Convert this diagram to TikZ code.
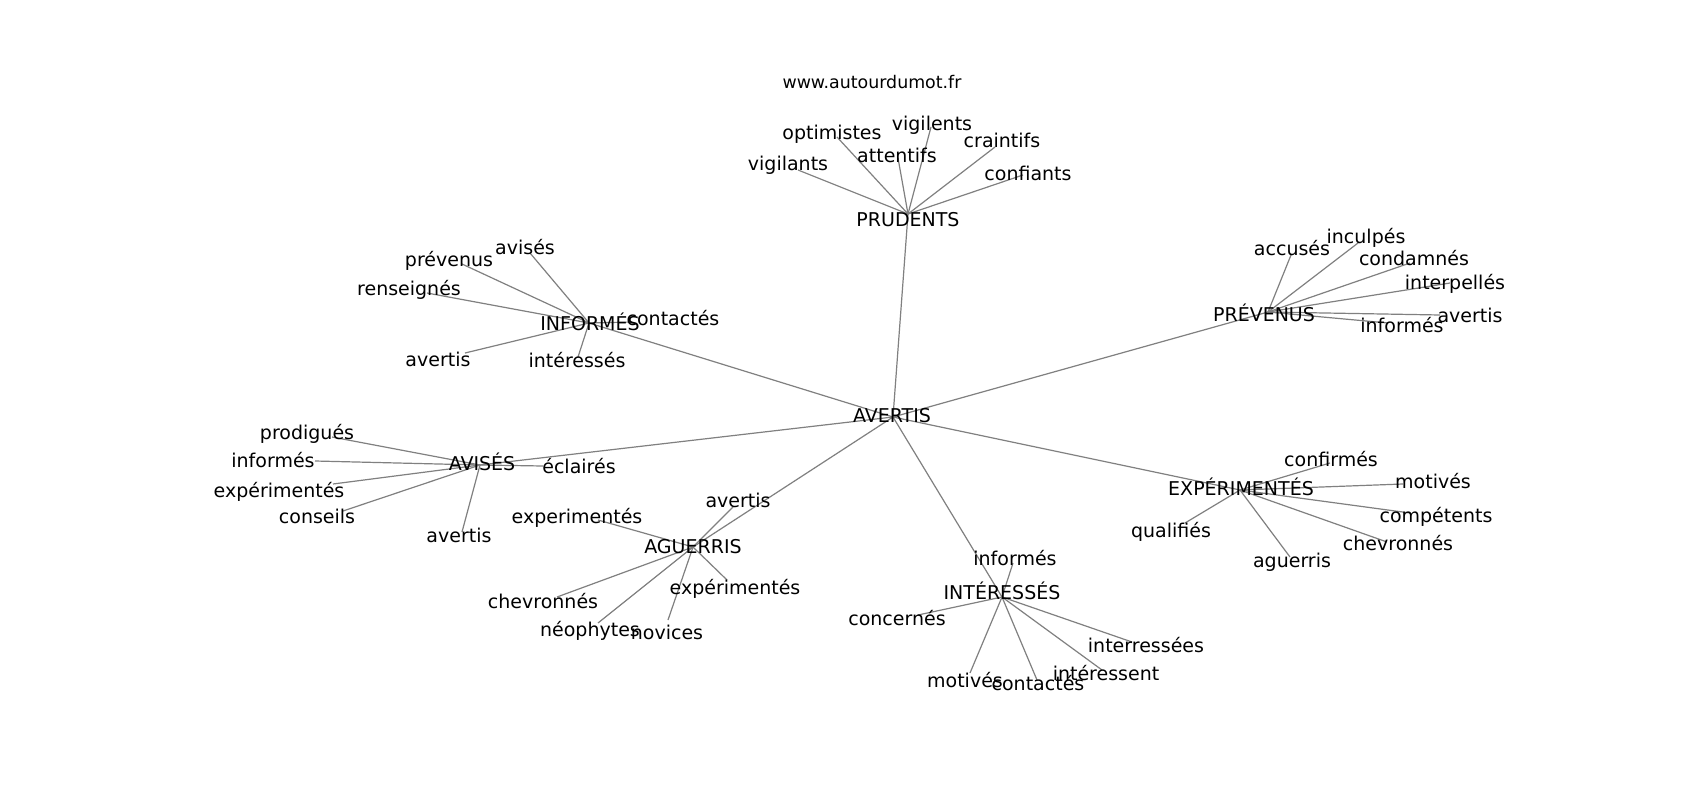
\documentclass[tikz,border=0pt]{standalone}
\usepackage{fontspec}
\setmainfont{DejaVu Sans}

\begin{document}
\begin{tikzpicture}[x=1pt, y=-1pt,
    word/.style={inner sep=0pt, yshift=-3pt, text height=0.76em, text depth=0.24em, font=\fontsize{19}{19}\selectfont},
    edge/.style={draw=black!50, line width=1.2pt}]
    \useasboundingbox[fill=white] (0,0) rectangle (1700,800);

    % graph vertices
    \coordinate (c) at (893,417);
    \coordinate (p) at (908,214);
    \coordinate (i) at (589,323);
    \coordinate (v) at (1268,312);
    \coordinate (a) at (480,465);
    \coordinate (g) at (693,547);
    \coordinate (n) at (1002,597);
    \coordinate (e) at (1240,490);

    \coordinate (p1) at (798,170);
    \coordinate (p2) at (837,137);
    \coordinate (p3) at (898,158);
    \coordinate (p4) at (931,127);
    \coordinate (p5) at (995,147);
    \coordinate (p6) at (1023,175);

    \coordinate (i1) at (530,253);
    \coordinate (i2) at (462,264);
    \coordinate (i3) at (427,293);
    \coordinate (i4) at (465,353);
    \coordinate (i5) at (578,357);
    \coordinate (i6) at (632,322);

    \coordinate (v1) at (1291,255);
    \coordinate (v2) at (1358,243);
    \coordinate (v3) at (1410,263);
    \coordinate (v4) at (1450,283);
    \coordinate (v5) at (1440,315);
    \coordinate (v6) at (1388,323);

    \coordinate (a1) at (332,437);
    \coordinate (a2) at (315,461);
    \coordinate (a3) at (333,484);
    \coordinate (a4) at (343,511);
    \coordinate (a5) at (462,532);
    \coordinate (a6) at (543,466);

    \coordinate (g1) at (733,507);
    \coordinate (g2) at (598,520);
    \coordinate (g3) at (557,597);
    \coordinate (g4) at (598,623);
    \coordinate (g5) at (668,620);
    \coordinate (g6) at (727,580);

    \coordinate (n1) at (1013,563);
    \coordinate (n2) at (918,615);
    \coordinate (n3) at (970,673);
    \coordinate (n4) at (1037,680);
    \coordinate (n5) at (1102,670);
    \coordinate (n6) at (1132,642);

    \coordinate (e1) at (1330,463);
    \coordinate (e2) at (1403,484);
    \coordinate (e3) at (1410,513);
    \coordinate (e4) at (1387,542);
    \coordinate (e5) at (1290,557);
    \coordinate (e6) at (1185,523);

    % edges
    \foreach \h in {p,i,v,a,g,n,e} {
        \draw[edge] (c) -- (\h);
        \foreach \k in {1,...,6}
            \draw[edge] (\h) -- (\h\k);
    }

    % labels
    \node[font=\fontsize{17.4}{17.4}\selectfont, inner sep=0pt] (site) at (872,82) {www.autourdumot.fr};

    \node[word] (ct) at (892,417) {AVERTIS};
    \node[word] (pt) at (908,221) {PRUDENTS};
    \node[word] (it) at (590,325) {INFORMÉS};
    \node[word] (vt) at (1264,316) {PRÉVENUS};
    \node[word] (at) at (482,465) {AVISÉS};
    \node[word] (gt) at (693,548) {AGUERRIS};
    \node[word] (nt) at (1002,594) {INTÉRESSÉS};
    \node[word] (et) at (1241,490) {EXPÉRIMENTÉS};

    \node[word] (p1t) at (788,165) {vigilants};
    \node[word] (p2t) at (832,134) {optimistes};
    \node[word] (p3t) at (897,157) {attentifs};
    \node[word] (p4t) at (932,125) {vigilents};
    \node[word] (p5t) at (1002,142) {craintifs};
    \node[word] (p6t) at (1028,175) {confiants};

    \node[word] (i1t) at (525,249) {avisés};
    \node[word] (i2t) at (449,261) {prévenus};
    \node[word] (i3t) at (409,290) {renseignés};
    \node[word] (i4t) at (438,361) {avertis};
    \node[word] (i5t) at (577,362) {intéressés};
    \node[word] (i6t) at (673,320) {contactés};

    \node[word] (v1t) at (1292,250) {accusés};
    \node[word] (v2t) at (1366,238) {inculpés};
    \node[word] (v3t) at (1414,260) {condamnés};
    \node[word] (v4t) at (1455,284) {interpellés};
    \node[word] (v5t) at (1470,317) {avertis};
    \node[word] (v6t) at (1402,327) {informés};

    \node[word] (a1t) at (307,434) {prodigués};
    \node[word] (a2t) at (273,462) {informés};
    \node[word] (a3t) at (279,492) {expérimentés};
    \node[word] (a4t) at (317,518) {conseils};
    \node[word] (a5t) at (459,537) {avertis};
    \node[word] (a6t) at (579,468) {éclairés};

    \node[word] (g1t) at (738,502) {avertis};
    \node[word] (g2t) at (577,518) {experimentés};
    \node[word] (g3t) at (543,603) {chevronnés};
    \node[word] (g4t) at (590,631) {néophytes};
    \node[word] (g5t) at (667,634) {novices};
    \node[word] (g6t) at (735,589) {expérimentés};

    \node[word] (n1t) at (1015,560) {informés};
    \node[word] (n2t) at (897,620) {concernés};
    \node[word] (n3t) at (965,682) {motivés};
    \node[word] (n4t) at (1038,685) {contactés};
    \node[word] (n5t) at (1106,675) {intéressent};
    \node[word] (n6t) at (1146,647) {interressées};

    \node[word] (e1t) at (1331,461) {confirmés};
    \node[word] (e2t) at (1433,483) {motivés};
    \node[word] (e3t) at (1436,517) {compétents};
    \node[word] (e4t) at (1398,545) {chevronnés};
    \node[word] (e5t) at (1292,562) {aguerris};
    \node[word] (e6t) at (1171,532) {qualifiés};
\end{tikzpicture}
\end{document}
